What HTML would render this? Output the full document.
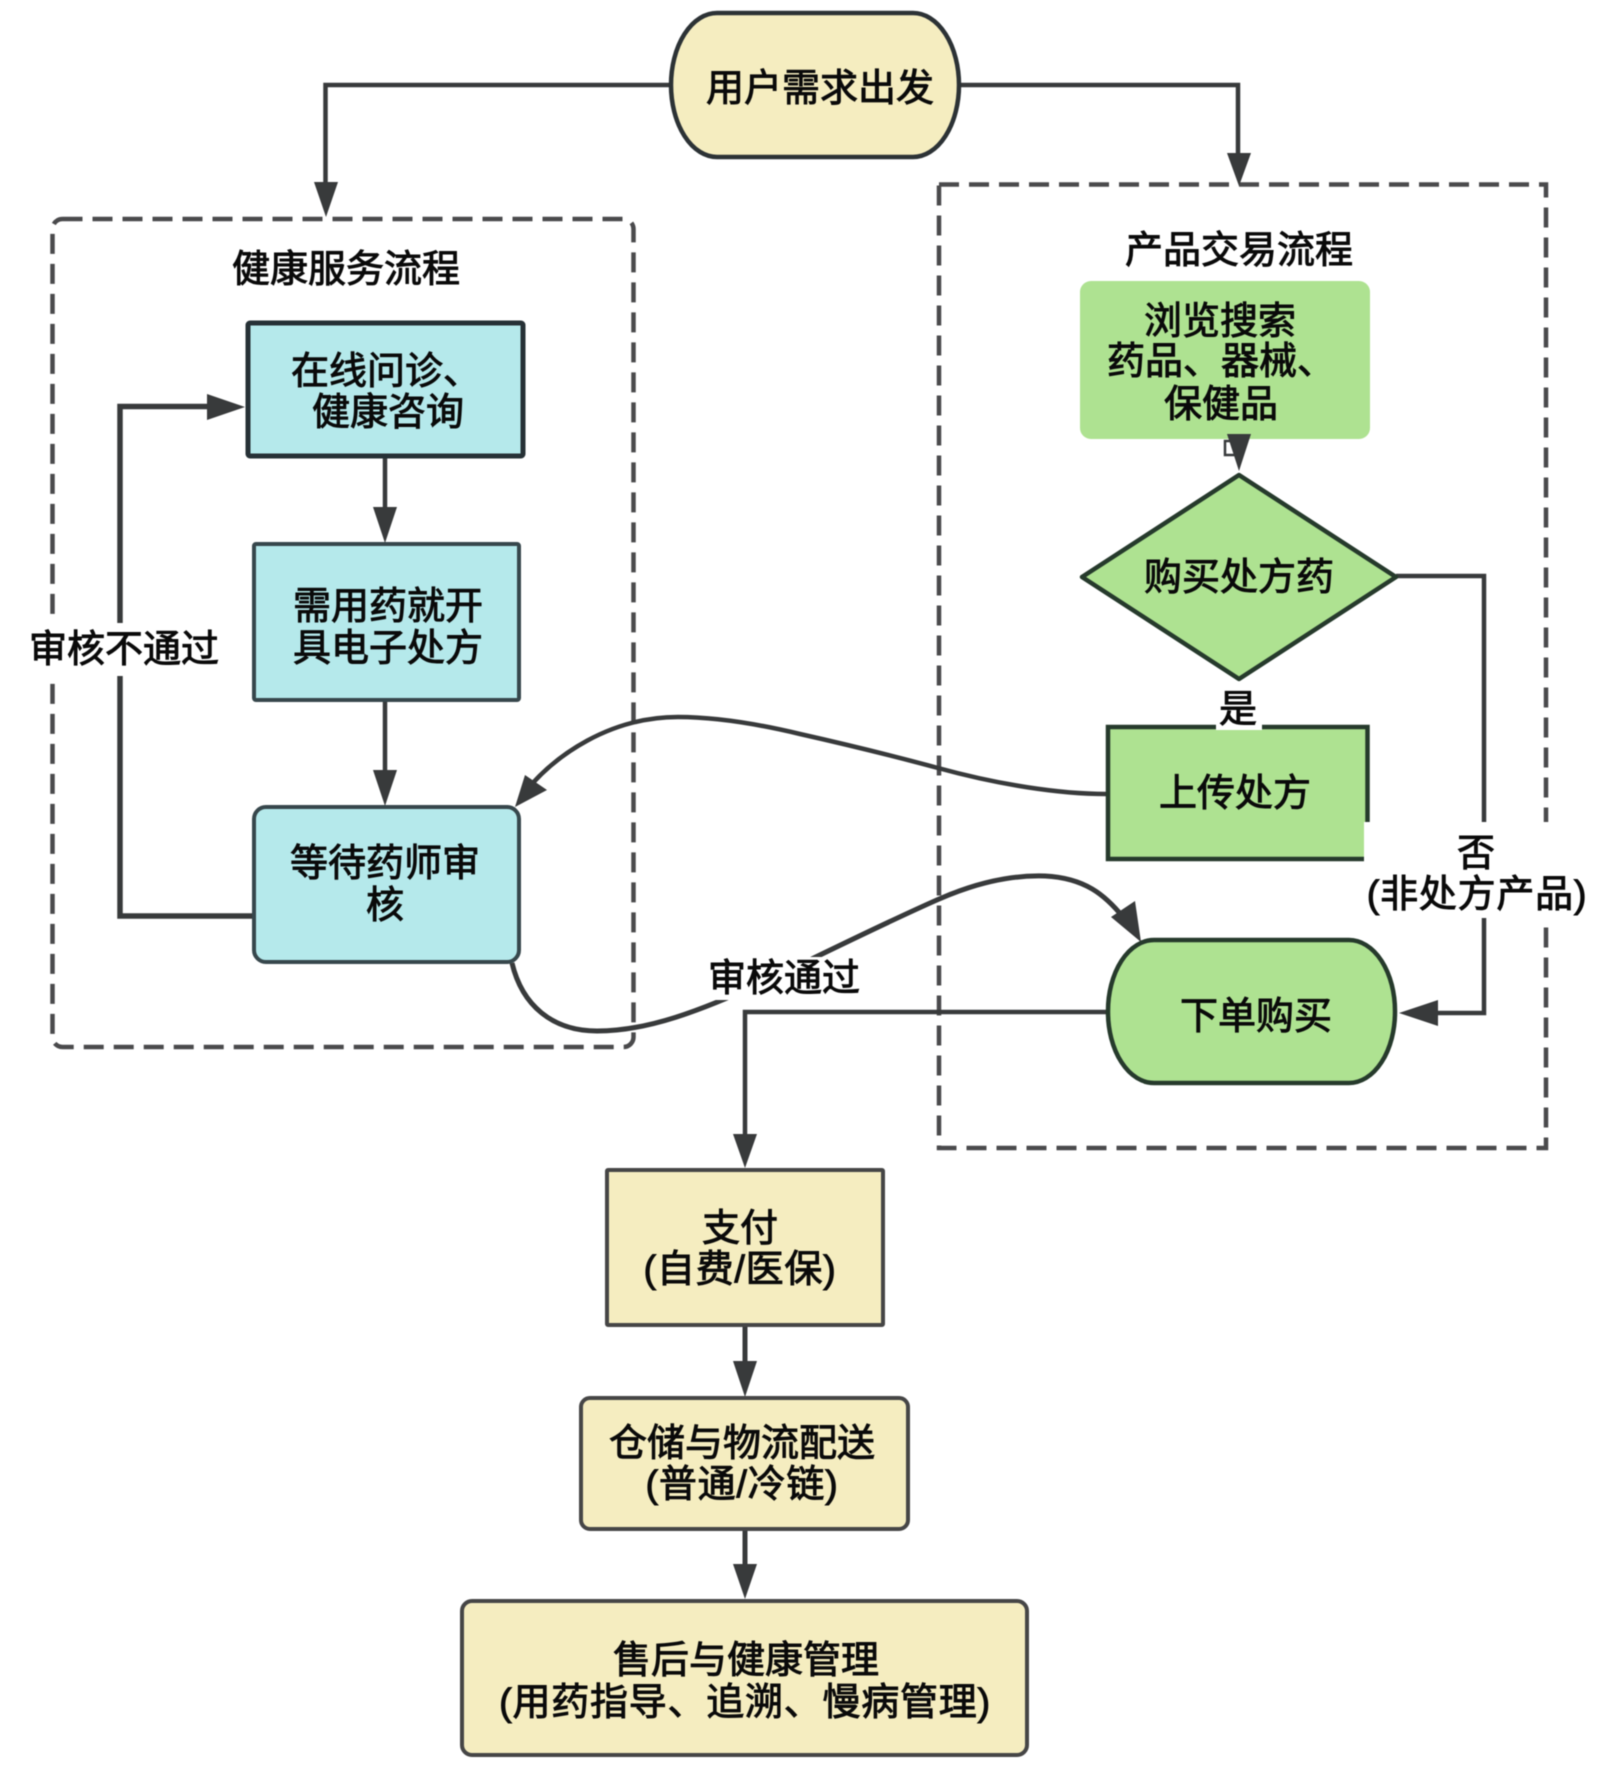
<!DOCTYPE html>
<html lang="zh"><head><meta charset="utf-8"><title>流程图</title>
<style>
html,body{margin:0;padding:0;background:#fff;width:1600px;height:1768px;overflow:hidden}
svg{display:block;filter:blur(.55px)}
text{font-family:"Liberation Sans","Noto Sans CJK SC",sans-serif;font-size:38px;fill:#0a0a0a;text-anchor:middle;stroke:#0a0a0a;stroke-width:.95px}
.s{text-anchor:start}
.p{letter-spacing:.75px}
.l{fill:none;stroke:#383a3b;stroke-width:4.5;stroke-linejoin:miter}
.a{fill:#383a3b;stroke:none}
.d{fill:none;stroke:#4a4a4c;stroke-width:4.5;stroke-dasharray:20 10}
</style></head><body>
<svg xmlns="http://www.w3.org/2000/svg" width="1600" height="1768" viewBox="0 0 1600 1768">
<rect width="1600" height="1768" fill="#fff"/>

<!-- dashed groups -->
<rect class="d" x="52.500" y="219" width="581" height="828" rx="10" ry="10"/>
<rect class="d" x="939" y="184.500" width="607" height="963.500"/>

<!-- top connectors -->
<path class="l" d="M671 85H325.500V190"/>
<polygon class="a" points="314,182 338,182 326,217"/>
<path class="l" d="M959 85H1238V160"/>
<polygon class="a" points="1227,153 1251,153 1239,186"/>

<!-- feedback loop -->
<path class="l" style="stroke-width:5.500" d="M253 916H120V406.500H215"/>
<polygon class="a" points="207,394 207,420 245,407"/>

<!-- left vertical arrows -->
<path class="l" d="M385 456V515"/><polygon class="a" points="373,507 397,507 385,543"/>
<path class="l" d="M385 700V778"/><polygon class="a" points="373,770 397,770 385,806"/>

<!-- curves -->
<path class="l" d="M1106 794C1060 794 1000 785 938 768C890 755 840 743 800 734C750 722 710 717 678 717C610 717 555 755 525 792"/>
<polygon class="a" points="515,807 525,775 547,790"/>
<path class="l" style="stroke-width:5" d="M512 963C522 1005 552 1031 597 1031C650 1031 700 1010 760 984C800 965 880 925 938 899.500C980 881 1015 875 1045 876C1085 878 1105 895 1123 917"/>
<polygon class="a" points="1141,942 1111,917 1135,901"/>

<!-- order to payment -->
<path class="l" d="M1107 1012H745V1142"/>
<polygon class="a" points="733,1134 757,1134 745,1168"/>

<!-- bottom arrows -->
<path class="l" style="stroke-width:5" d="M745 1325V1368"/><polygon class="a" points="733,1361 757,1361 745,1397"/>
<path class="l" style="stroke-width:5" d="M745 1529V1570"/><polygon class="a" points="733,1564 757,1564 745,1599"/>

<!-- right connector -->
<path class="l" d="M1396 576H1484V1013H1432"/>
<polygon class="a" points="1438,1000 1438,1026 1399,1013"/>

<!-- browse to diamond -->
<path fill="none" stroke="#383a3b" stroke-width="2.500" d="M1239 441H1225V455H1239"/>

<!-- nodes -->
<rect x="671" y="13" width="288" height="144" rx="46" ry="72" fill="#f5edc0" stroke="#2c3235" stroke-width="4.500"/>
<rect x="248" y="323" width="275" height="133" rx="2" fill="#b5e9eb" stroke="#263136" stroke-width="5"/>
<rect x="254" y="544" width="265" height="156" rx="2" fill="#b5e9eb" stroke="#37474c" stroke-width="4"/>
<rect x="254" y="807" width="265" height="155" rx="12" fill="#b5e9eb" stroke="#37474c" stroke-width="4"/>
<rect x="1080" y="281" width="290" height="158" rx="11" fill="#aee291"/>
<polygon class="a" points="1227,434 1251,434 1239,471"/>
<polygon points="1239,475 1396,577 1239,679 1082,577" fill="#aee291" stroke="#263a2c" stroke-width="4.500" stroke-linejoin="round"/>
<rect x="1108" y="727" width="259.500" height="132" fill="#aee291" stroke="#263a2c" stroke-width="4.500"/>
<rect x="1108" y="940" width="287" height="143" rx="46" ry="71" fill="#aee291" stroke="#263a2c" stroke-width="4.500"/>
<rect x="607" y="1170" width="276" height="155" rx="1" fill="#f5edc0" stroke="#464646" stroke-width="4"/>
<rect x="581" y="1398" width="327" height="131" rx="9" fill="#f5edc0" stroke="#464646" stroke-width="4"/>
<rect x="462" y="1601" width="565" height="154" rx="10" fill="#f5edc0" stroke="#464646" stroke-width="4"/>

<!-- label masks -->
<rect x="24" y="623" width="196" height="53" fill="#fff"/>
<rect x="706" y="957" width="157" height="43" fill="#fff"/>
<rect x="1216" y="692" width="46" height="38" fill="#fff"/>
<rect x="1364" y="822" width="224" height="96" fill="#fff"/>

<!-- text -->
<text x="820" y="101">用户需求出发</text>
<text x="346" y="282">健康服务流程</text>
<text x="1239" y="263">产品交易流程</text>
<text class="s" x="291" y="384">在线问诊、</text>
<text x="388" y="425">健康咨询</text>
<text x="388" y="619">需用药就开</text>
<text x="388" y="661">具电子处方</text>
<text x="385" y="876">等待药师审</text>
<text x="385" y="918">核</text>
<text x="124" y="662">审核不通过</text>
<text x="784" y="991">审核通过</text>
<text x="1220" y="334">浏览搜索</text>
<text class="s" x="1107" y="374">药品、器械、</text>
<text x="1221" y="417">保健品</text>
<text x="1239" y="590">购买处方药</text>
<text x="1238" y="722">是</text>
<text x="1235" y="806">上传处方</text>
<text x="1476" y="866">否</text>
<text class="p" x="1477" y="907">(非处方产品)</text>
<text x="1256" y="1029">下单购买</text>
<text x="740" y="1241">支付</text>
<text class="p" x="740" y="1282">(自费/医保)</text>
<text x="742" y="1456">仓储与物流配送</text>
<text class="p" x="742" y="1497">(普通/冷链)</text>
<text x="746" y="1673">售后与健康管理</text>
<text class="p" x="745" y="1715">(用药指导、追溯、慢病管理)</text>
</svg>
</body></html>
